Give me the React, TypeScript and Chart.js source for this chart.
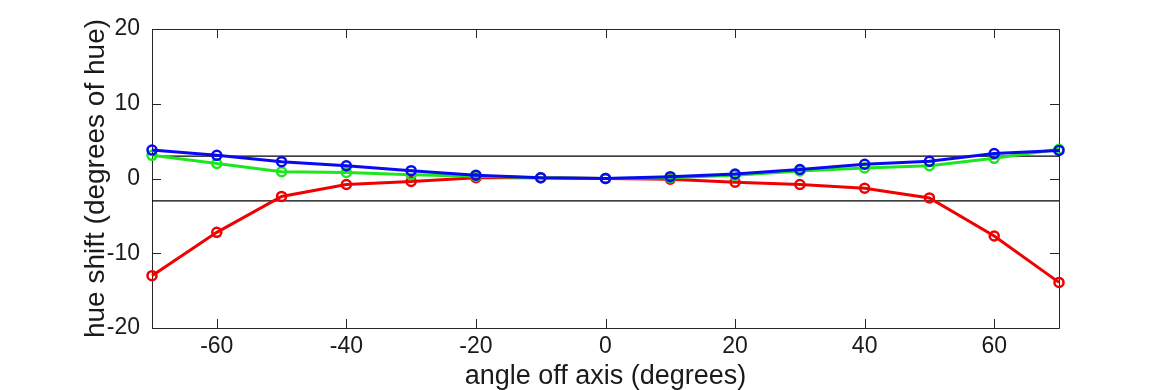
import React, { useEffect, useRef } from "react";
import { Chart, registerables } from "chart.js";

Chart.register(...registerables);

const angles = [-70, -60, -50, -40, -30, -20, -10, 0, 10, 20, 30, 40, 50, 60, 70];
const redShift = [-13.0, -7.2, -2.4, -0.8, -0.4, 0.1, 0.1, 0, -0.1, -0.5, -0.8, -1.3, -2.6, -7.7, -13.9];
const greenShift = [3.1, 2.0, 0.9, 0.8, 0.5, 0.3, 0.1, 0, 0.1, 0.45, 1.0, 1.4, 1.7, 2.7, 3.9];
const blueShift = [3.8, 3.1, 2.25, 1.7, 1.05, 0.45, 0.1, 0, 0.25, 0.6, 1.2, 1.9, 2.3, 3.35, 3.75];
const refLevels = [3, -3];
const xRange = [-70, 70];
const yRange = [-20, 20];
const xTicks = [-60, -40, -20, 0, 20, 40, 60];
const yTicks = [-20, -10, 0, 10, 20];

const FONT = "'Liberation Sans', Arial, Helvetica, sans-serif";

const boxPlugin = {
  id: "boxTicks",
  beforeDatasetsDraw(chart: any) {
    const { ctx, chartArea } = chart;
    const { left, right, top, bottom } = chartArea;
    const xs = chart.scales.x;
    const ys = chart.scales.y;
    const len = 9;
    ctx.save();
    ctx.strokeStyle = "#262626";
    ctx.lineWidth = 1;
    ctx.beginPath();
    ctx.rect(Math.round(left) + 0.5, Math.round(top) + 0.5, Math.round(right - left), Math.round(bottom - top));
    xTicks.forEach((v) => {
      const px = Math.round(xs.getPixelForValue(v)) + 0.5;
      ctx.moveTo(px, bottom);
      ctx.lineTo(px, bottom - len);
      ctx.moveTo(px, top);
      ctx.lineTo(px, top + len);
    });
    yTicks.forEach((v) => {
      const py = Math.round(ys.getPixelForValue(v)) + 0.5;
      ctx.moveTo(left, py);
      ctx.lineTo(left + len, py);
      ctx.moveTo(right, py);
      ctx.lineTo(right - len, py);
    });
    ctx.stroke();
    ctx.restore();
  },
};

function series(values: number[], color: string) {
  return {
    data: angles.map((a, i) => ({ x: a, y: values[i] })),
    borderColor: color,
    backgroundColor: "transparent",
    borderWidth: 3,
    pointRadius: 4.5,
    pointBorderWidth: 2.5,
    pointBorderColor: color,
    pointBackgroundColor: "transparent",
    clip: false as any,
    tension: 0,
  };
}

export default function App() {
  const ref = useRef<HTMLCanvasElement | null>(null);
  useEffect(() => {
    document.body.style.margin = "0";
    const canvas = ref.current!;
    const refSets = refLevels.map((lv) => ({
      data: xRange.map((x) => ({ x, y: lv })),
      borderColor: "#000000",
      borderWidth: 1.2,
      pointRadius: 0,
      backgroundColor: "transparent",
      tension: 0,
    }));
    const chart = new Chart(canvas, {
      type: "line",
      data: {
        datasets: [
          series(blueShift, "#0a0af0"),
          series(greenShift, "#1ee61e"),
          series(redShift, "#f00000"),
          ...refSets,
        ] as any,
      },
      options: {
        animation: false,
        responsive: false,
        maintainAspectRatio: false,
        layout: { padding: { left: 82, right: 111, top: 29, bottom: 0 } },
        plugins: { legend: { display: false }, tooltip: { enabled: false } },
        scales: {
          x: {
            type: "linear",
            min: xRange[0],
            max: xRange[1],
            grid: { display: false },
            border: { display: false },
            afterBuildTicks: (s: any) => {
              s.ticks = xTicks.map((v) => ({ value: v }));
            },
            afterFit: (s: any) => {
              s.height = 62;
            },
            ticks: {
              color: "#1a1a1a",
              padding: -3,
              maxRotation: 0,
              autoSkip: false,
              font: { family: FONT, size: 23 },
            },
            title: {
              display: true,
              text: "angle off axis (degrees)",
              color: "#1a1a1a",
              padding: { top: 0, bottom: 0 },
              font: { family: FONT, size: 27, lineHeight: 1 },
            },
          },
          y: {
            type: "linear",
            min: yRange[0],
            max: yRange[1],
            grid: { display: false },
            border: { display: false },
            afterBuildTicks: (s: any) => {
              s.ticks = yTicks.map((v) => ({ value: v }));
            },
            afterFit: (s: any) => {
              s.width = 70;
            },
            ticks: {
              color: "#1a1a1a",
              padding: 4,
              autoSkip: false,
              font: { family: FONT, size: 23 },
            },
            title: {
              display: true,
              text: "hue shift (degrees of hue)",
              color: "#1a1a1a",
              padding: { top: 0, bottom: 0 },
              font: { family: FONT, size: 28, lineHeight: 1 },
            },
          },
        },
      },
      plugins: [boxPlugin],
    });
    return () => chart.destroy();
  }, []);
  return (
    <div style={{ width: 1170, height: 390, background: "#ffffff" }}>
      <canvas ref={ref} width={1170} height={390} style={{ display: "block" }} />
    </div>
  );
}
